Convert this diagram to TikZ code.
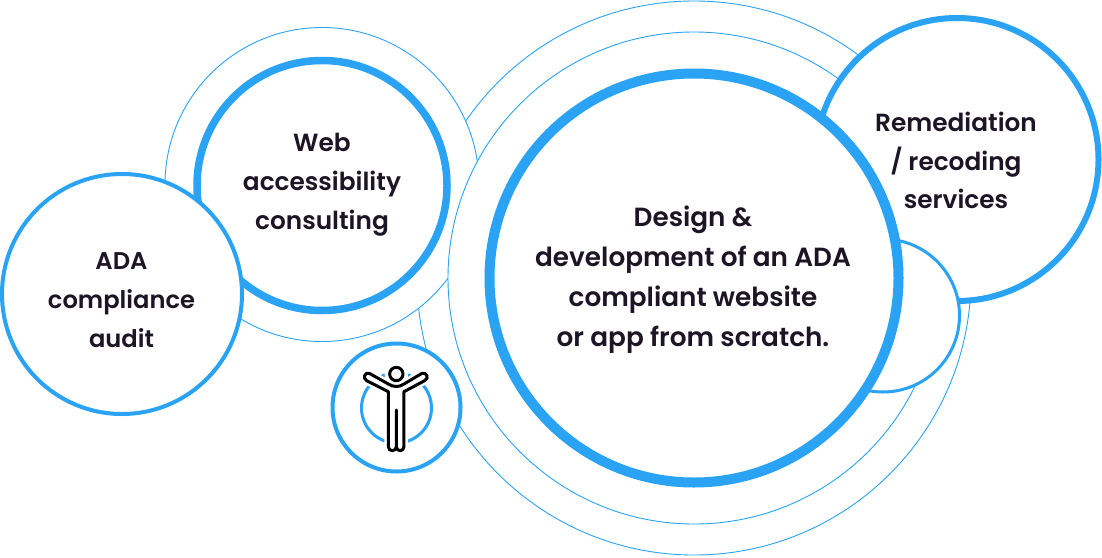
\documentclass[tikz,border=0pt]{standalone}
\usepackage{fontspec}
\usepackage{xcolor}
\setmainfont{Poppins SemiBold}
\definecolor{ringblue}{HTML}{2AA3F4}
\definecolor{inkdark}{HTML}{1D1525}
\begin{document}
\begin{tikzpicture}[x=1pt,y=-1pt,
    ring/.style={draw=ringblue, circle, fill=white, inner sep=0pt, line width=#1},
    ring/.default=1pt,
    caption/.style={text=inkdark, align=center, font=\fontsize{24.8}{39}\selectfont, inner sep=0pt}]
    \useasboundingbox (0,0) rectangle (1102,557);
    \node[ring=0.9pt, minimum size=554pt] (mainfar) at (694,278) {};
    \node[ring=0.9pt, minimum size=314pt] (webhalo) at (322,184.5) {};
    \node[ring=0.9pt, minimum size=492pt] (mainnear) at (694,278) {};
    \node[ring=6pt, minimum size=283pt] (remed) at (957,159.5) {};
    \node[ring=3pt, minimum size=153pt] (remedback) at (883,315.5) {};
    \node[ring=10pt, minimum size=409pt] (design) at (694,278) {};
    \node[ring=7.5pt, minimum size=250pt] (web) at (322,185.5) {};
    \node[ring=4pt, minimum size=240pt] (ada) at (122,294) {};
    \node[ring=4pt, minimum size=128pt] (badge) at (396.5,407.5) {};
    \node[caption, font=\fontsize{24.2}{39}\selectfont] (adatext) at (121.5,300) {ADA\\compliance\\audit};
    \node[caption] (webtext) at (322,185) {Web\\accessibility\\consulting};
    \node[caption, font=\fontsize{24.8}{38.5}\selectfont] (remedtext) at (956,160.5) {Remediation\\/ recoding\\services};
    \node[caption, font=\fontsize{26.3}{40}\selectfont] (designtext) at (693,279.5) {Design \&\\development of an ADA\\compliant website\\or app from scratch.};
    % figure in the badge
    \node[draw=ringblue, circle, line width=3pt, minimum size=70pt, inner sep=0pt] (halo) at (396.5,408) {};
    \begin{scope}[shift={(320,330)},x=0.3333pt,y=-0.3333pt]
        \def\figpath{(148,130) -- (205,162) .. controls (220,172) and (238,172) .. (252,162) -- (306,130)
            .. controls (318,125) and (330,145) .. (314,152) -- (252,185) -- (252,350)
            .. controls (252,366) and (229,366) .. (229,350) -- (229,240) -- (229,350)
            .. controls (229,366) and (205,366) .. (205,350) -- (205,185) -- (140,152)
            .. controls (126,145) and (136,124) .. (148,130) -- cycle}
        \fill[white, draw=white, line width=8pt] \figpath;
        \fill[white, draw=white, line width=8pt] (229,132) circle (23);
        \draw[black, line width=3pt, line join=round, fill=white] \figpath;
        \draw[black, line width=3pt, fill=white] (229,132) circle (20);
    \end{scope}
\end{tikzpicture}
\end{document}
